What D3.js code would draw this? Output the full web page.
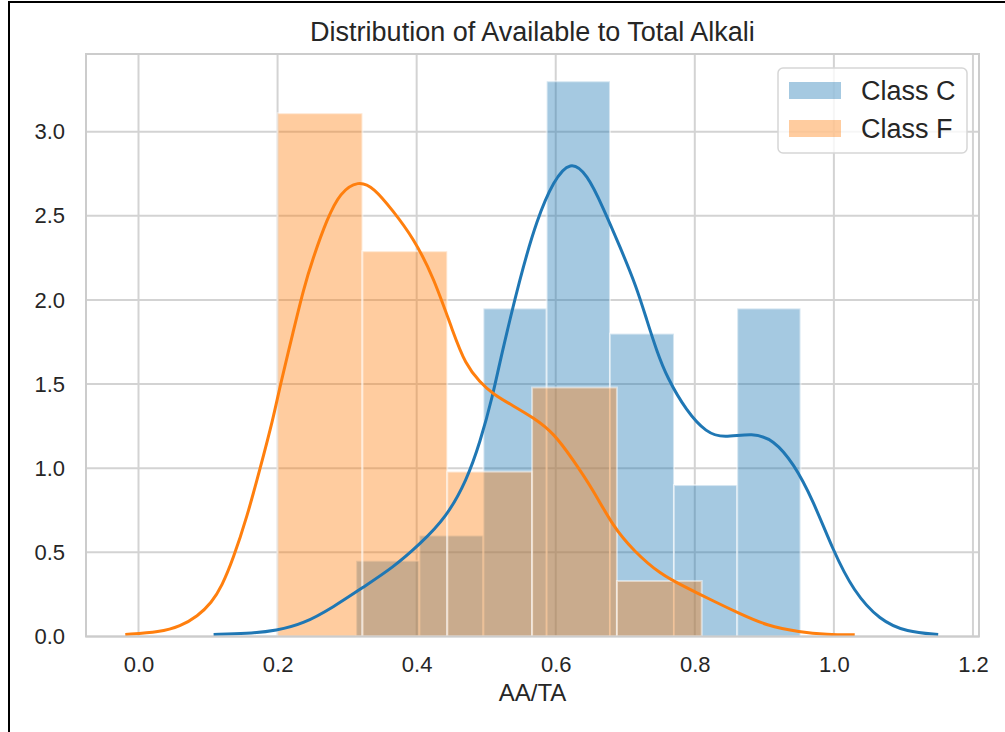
<!DOCTYPE html>
<html lang="en">
	<head>
		<meta charset="utf-8">
		<title>Distribution of Available to Total Alkali</title>
		<script type="text/javascript" src="https://cdn.jsdelivr.net/npm/d3@7"></script>
		<style type="text/css">
			body {
				margin: 0;
				background-color: white;
			}
			svg {
				display: block;
				font-family: "Liberation Sans", Arial, sans-serif;
			}
			.tick text {
				fill: #262626;
			}
		</style>
	</head>
	<body>

		<script type="text/javascript">

			// histogram bins (density)
			var binEdgesC = [0.313, 0.404, 0.496, 0.587, 0.678, 0.770, 0.861, 0.952];
			var densityC = [0.45, 0.60, 1.95, 3.30, 1.80, 0.90, 1.95];

			var binEdgesF = [0.200, 0.322, 0.444, 0.566, 0.688, 0.810];
			var densityF = [3.11, 2.29, 0.98, 1.48, 0.33];

			// kde curves, [x, density]
			var kdeC = [[0.108,0.012],[0.156,0.016],[0.199,0.036],[0.237,0.075],[0.280,0.174],[0.323,0.293],
				[0.366,0.41],[0.405,0.55],[0.443,0.71],[0.472,0.93],[0.491,1.15],[0.510,1.44],[0.520,1.64],
				[0.549,2.14],[0.573,2.48],[0.597,2.71],[0.621,2.83],[0.645,2.75],[0.668,2.55],[0.692,2.32],
				[0.716,2.08],[0.731,1.88],[0.745,1.70],[0.760,1.54],[0.788,1.34],[0.817,1.21],[0.841,1.18],
				[0.884,1.21],[0.913,1.17],[0.942,1.03],[0.970,0.81],[0.999,0.51],[1.028,0.27],[1.066,0.095],
				[1.105,0.026],[1.150,0.012]];

			var kdeF = [[-0.019,0.012],[0.031,0.026],[0.060,0.06],[0.085,0.12],[0.105,0.20],[0.120,0.30],
				[0.136,0.46],[0.156,0.71],[0.175,1.00],[0.194,1.30],[0.203,1.48],[0.223,1.82],[0.237,2.06],
				[0.251,2.25],[0.271,2.48],[0.290,2.64],[0.316,2.71],[0.338,2.67],[0.366,2.53],[0.395,2.37],
				[0.424,2.14],[0.453,1.80],[0.470,1.62],[0.491,1.51],[0.510,1.44],[0.539,1.37],[0.568,1.30],
				[0.597,1.21],[0.625,1.05],[0.654,0.87],[0.683,0.65],[0.712,0.51],[0.750,0.37],[0.788,0.29],
				[0.827,0.21],[0.865,0.135],[0.903,0.065],[0.951,0.026],[0.990,0.012],[1.030,0.010]];

			var xTicks = [0.0, 0.2, 0.4, 0.6, 0.8, 1.0, 1.2];
			var yTicks = [0.0, 0.5, 1.0, 1.5, 2.0, 2.5, 3.0];

			var seriesNames = ["Class C", "Class F"];
			var colors = ["#1f77b4", "#ff7f0e"];

			// plot box (note: "top" is reserved on window, so use other names)
			var pLeft = 86, pRight = 979, pTop = 54, pBottom = 636.5;

			var svg = d3.select("body")
						.append("svg")
						.attr("width", 1005)
						.attr("height", 732);

			// black frame (only top and left show)
			svg.append("line").attr("x1", 9).attr("x2", 1005).attr("y1", 2).attr("y2", 2)
				.attr("stroke", "black").attr("stroke-width", 2);
			svg.append("line").attr("x1", 9).attr("x2", 9).attr("y1", 1).attr("y2", 732)
				.attr("stroke", "black").attr("stroke-width", 2);

			var x = d3.scaleLinear().domain([-0.0755, 1.2087]).range([pLeft, pRight]);
			var y = d3.scaleLinear().domain([0, 3.462]).range([pBottom, pTop]);

			// grid
			var grid = svg.append("g");
			grid.selectAll(".vg").data(xTicks).enter().append("line")
				.attr("x1", function(d) { return x(d); })
				.attr("x2", function(d) { return x(d); })
				.attr("y1", pTop).attr("y2", pBottom)
				.attr("stroke", "#d3d3d3").attr("stroke-width", 2);
			grid.selectAll(".hg").data(yTicks).enter().append("line")
				.attr("x1", pLeft).attr("x2", pRight)
				.attr("y1", function(d) { return y(d); })
				.attr("y2", function(d) { return y(d); })
				.attr("stroke", "#d3d3d3").attr("stroke-width", 2);

			function drawHist(edges, dens, color) {
				var bins = dens.map(function(d, i) {
					return {x0: edges[i], x1: edges[i + 1], h: d};
				});
				svg.append("g").selectAll("rect")
					.data(bins)
					.enter()
					.append("rect")
					.attr("x", function(d) { return x(d.x0); })
					.attr("y", function(d) { return y(d.h); })
					.attr("width", function(d) { return x(d.x1) - x(d.x0); })
					.attr("height", function(d) { return y(0) - y(d.h); })
					.attr("fill", color)
					.attr("fill-opacity", 0.4)
					.attr("stroke", "white")
					.attr("stroke-opacity", 0.5)
					.attr("stroke-width", 2);
			}

			var line = d3.line()
				.x(function(d) { return x(d[0]); })
				.y(function(d) { return y(d[1]); })
				.curve(d3.curveBasis);

			function drawKde(pts, color) {
				svg.append("path")
					.datum(pts)
					.attr("d", line)
					.attr("fill", "none")
					.attr("stroke", color)
					.attr("stroke-width", 3);
			}

			// bars sit under the lines, like matplotlib's zorder
			drawHist(binEdgesC, densityC, colors[0]);
			drawHist(binEdgesF, densityF, colors[1]);
			drawKde(kdeC, colors[0]);
			drawKde(kdeF, colors[1]);

			// spines
			svg.append("rect")
				.attr("x", pLeft).attr("y", pTop)
				.attr("width", pRight - pLeft).attr("height", pBottom - pTop)
				.attr("fill", "none")
				.attr("stroke", "#cccccc")
				.attr("stroke-width", 2);

			// axes
			var xAxis = d3.axisBottom(x).tickValues(xTicks).tickSize(0).tickPadding(20)
				.tickFormat(d3.format(".1f"));
			svg.append("g")
				.attr("transform", "translate(0," + pBottom + ")")
				.call(xAxis)
				.call(function(g) { g.select(".domain").remove(); })
				.selectAll("text")
				.style("font-size", "22px")
				.style("font-family", "'Liberation Sans', Arial, sans-serif");

			var yAxis = d3.axisLeft(y).tickValues(yTicks).tickSize(0).tickPadding(21)
				.tickFormat(d3.format(".1f"));
			svg.append("g")
				.attr("transform", "translate(" + pLeft + ",0)")
				.call(yAxis)
				.call(function(g) { g.select(".domain").remove(); })
				.selectAll("text")
				.style("font-size", "22px")
				.style("font-family", "'Liberation Sans', Arial, sans-serif");

			// title and axis label
			svg.append("text")
				.attr("x", (pLeft + pRight) / 2)
				.attr("y", 41)
				.attr("text-anchor", "middle")
				.attr("fill", "#262626")
				.style("font-size", "27px")
				.text("Distribution of Available to Total Alkali");

			svg.append("text")
				.attr("x", (pLeft + pRight) / 2)
				.attr("y", 701)
				.attr("text-anchor", "middle")
				.attr("fill", "#262626")
				.style("font-size", "24px")
				.text("AA/TA");

			// legend
			var legend = svg.append("g");
			legend.append("rect")
				.attr("x", 778).attr("y", 68)
				.attr("width", 189).attr("height", 85)
				.attr("rx", 5)
				.attr("fill", "white").attr("fill-opacity", 0.8)
				.attr("stroke", "#d6d6d6").attr("stroke-width", 1.5);

			var items = legend.selectAll(".item")
				.data(seriesNames)
				.enter()
				.append("g")
				.attr("transform", function(d, i) { return "translate(0," + (i * 38) + ")"; });

			items.append("rect")
				.attr("x", 789).attr("y", 82)
				.attr("width", 52).attr("height", 17)
				.attr("fill", function(d, i) { return colors[i]; })
				.attr("fill-opacity", 0.4);

			items.append("text")
				.attr("x", 861)
				.attr("y", 100)
				.attr("fill", "#262626")
				.style("font-size", "27px")
				.text(function(d) { return d; });

		</script>

	</body>
</html>
